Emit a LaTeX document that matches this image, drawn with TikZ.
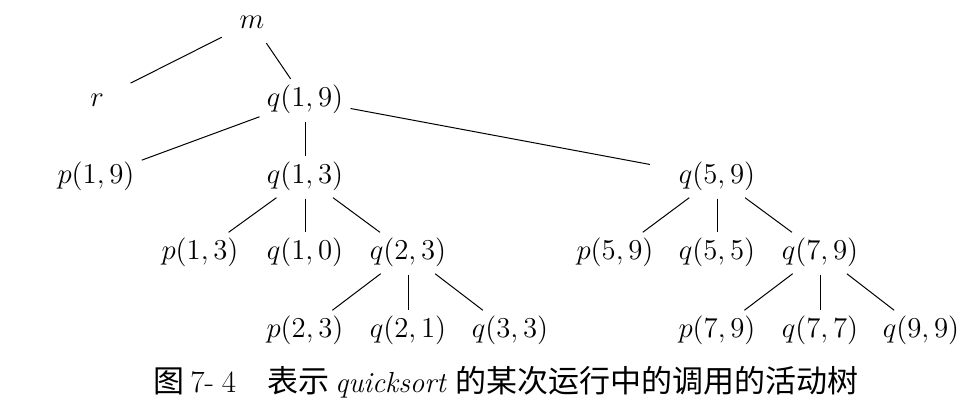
\documentclass[tikz,border=0pt]{standalone}
\usepackage{fontspec}
\newfontfamily\cjk{Noto Sans CJK SC}
\begin{document}
\begin{tikzpicture}[x=0.5pt,y=-0.5pt,
  tn/.style={inner sep=2.5pt, text height=10.5pt, text depth=3.6pt, font=\fontsize{14.5}{17}\selectfont},
  link/.style={draw, line width=0.5pt, shorten <=1pt, shorten >=1pt}]
\useasboundingbox (0,0) rectangle (977,408);
\node[tn] (m) at (252,22) {$m$};
\node[tn] (r) at (97,100) {$r$};
\node[tn] (q19) at (305,100) {$q(1,9)$};
\node[tn] (p19) at (96,177) {$p(1,9)$};
\node[tn] (q13) at (305,177) {$q(1,3)$};
\node[tn] (q59) at (717,177) {$q(5,9)$};
\node[tn] (p13) at (200,253) {$p(1,3)$};
\node[tn] (q10) at (305,253) {$q(1,0)$};
\node[tn] (q23) at (408,253) {$q(2,3)$};
\node[tn] (p59) at (615,253) {$p(5,9)$};
\node[tn] (q55) at (717,253) {$q(5,5)$};
\node[tn] (q79) at (820,253) {$q(7,9)$};
\node[tn] (p23) at (305,331) {$p(2,3)$};
\node[tn] (q21) at (408,331) {$q(2,1)$};
\node[tn] (q33) at (510,331) {$q(3,3)$};
\node[tn] (p79) at (717,331) {$p(7,9)$};
\node[tn] (q77) at (820,331) {$q(7,7)$};
\node[tn] (q99) at (921,331) {$q(9,9)$};
\draw[link, shorten <=7pt, shorten >=12pt] (m) -- (r);
\draw[link, shorten >=12pt] (q19) -- (q59);
\foreach \a/\b in {m/q19,q19/p19,q19/q13,q13/p13,q13/q10,q13/q23,
  q59/p59,q59/q55,q59/q79,q23/p23,q23/q21,q23/q33,q79/p79,q79/q77,q79/q99}
  \draw[link] (\a) -- (\b);
\node[anchor=west, inner sep=0pt, font=\fontsize{15.5}{18}\selectfont] (cap) at (153,382)
  {{\cjk 图}\hspace{3pt}{\normalfont 7-\hspace{4pt}4}\hspace{15.5pt}{\cjk 表示}\hspace{3pt}{\normalfont\fontsize{14.5}{17}\selectfont\itshape quicksort}\hspace{5pt}{\cjk 的某次运行中的调用的活动树}};
\end{tikzpicture}
\end{document}
